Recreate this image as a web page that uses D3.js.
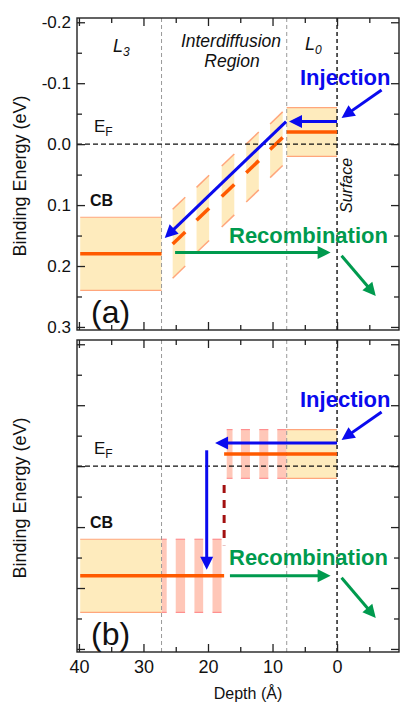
<!DOCTYPE html>
<html>
<head>
<meta charset="utf-8">
<script src="https://cdn.jsdelivr.net/npm/d3@7"></script>
<style>
  body { margin: 0; background: #fff; }
  text { font-family: "Liberation Sans", Arial, sans-serif; }
</style>
</head>
<body>
<svg id="chart" width="401" height="705"></svg>
<script>
// ---- data (depth in Å, binding energy in eV) ----
const depthMajorTicks = [40, 30, 20, 10, 0];
const depthMinorTicks = [35, 25, 15, 5, -5];
const depthTickLabels = ['40', '30', '20', '10', '0'];
const energyMajorTicks = [-0.2, -0.1, 0.0, 0.1, 0.2, 0.3];
const energyMinorTicks = [-0.15, -0.05, 0.05, 0.15, 0.25];
const energyTickLabels = ['-0.2', '-0.1', '0.0', '0.1', '0.2', '0.3'];

const regionEdges = [27.2, 7.8]; // L3 | interdiffusion | L0
const surfaceDepth = 0;
const fermiLevel = 0;

// L3 and L0 layers
const layerFrom = [39.8, 7.8];
const layerTo = [27.2, 0];
const layerLevel = [0.18, -0.02];
const layerTop = [0.12, -0.06];
const layerBottom = [0.24, 0.02];

// (a) graded bands in the interdiffusion region
const bandDepth = [24.5, 20.8, 16.9, 13.1, 9.4];
const bandLevel = [0.154, 0.115, 0.076, 0.037, -0.001];
const bandTop = [0.097, 0.061, 0.026, -0.010, -0.043];
const bandBottom = [0.210, 0.168, 0.126, 0.085, 0.045];
const bandWidth = 1.95;
const bandSlope = 0.0102; // eV per Å

// (b) abrupt step: stripes and extended levels
const upperStripeFrom = [17.1, 14.9, 12.05, 9.26];
const upperStripeTo = [16.2, 13.5, 10.65, 7.8];
const lowerStripeFrom = [27.2, 25.0, 22.1, 19.3];
const lowerStripeTo = [26.4, 23.55, 20.75, 17.9];
const stepDepth = 17.5;
const stepGap = [0.031, 0.13];

// arrows [depth, eV] -> [depth, eV]
const injectionArrow = [[-6.9, -0.089], [-0.7, -0.043]];
const recombOutArrow = [[-0.7, 0.183], [-6.0, 0.249]];
const aInjectLeft = [[0, -0.037], [7.45, -0.037]];
const aDownSlope = [[7.9, -0.037], [26.7, 0.154]];
const aRecomb = [[25.1, 0.178], [1.0, 0.178]];
const bInjectLeft = [[0, -0.038], [18.9, -0.038]];
const bDrop = [[20.2, -0.026], [20.2, 0.170]];
const bRecomb = [[16.6, 0.18], [1.0, 0.18]];

// ---- layout ----
const svg = d3.select('#chart');
const left = 77;
const W = 322;
const H = 312;
const panelTops = [18, 340];

const x = d3.scaleLinear().domain([40.3, -9.6]).range([0, W]);
const y = d3.scaleLinear().domain([-0.207, 0.305]).range([0, H]);

const orange = '#ff5a00';
const fillYellow = '#feebbd';
const edgeOrange = '#ffa67c';
const stripeFill = '#ffc7b8';
const stripeEdge = '#ff8f8f';
const blue = '#0a0aee';
const green = '#009a4e';

function arrow(g, pts, color) {
  const x1 = x(pts[0][0]), y1 = y(pts[0][1]);
  const x2 = x(pts[1][0]), y2 = y(pts[1][1]);
  const len = Math.hypot(x2 - x1, y2 - y1);
  const ux = (x2 - x1) / len, uy = (y2 - y1) / len;
  const hl = 13, hw = 6.5;
  const bx = x2 - ux * hl, by = y2 - uy * hl;
  g.append('line')
    .attr('x1', x1).attr('y1', y1)
    .attr('x2', bx + ux * 2).attr('y2', by + uy * 2)
    .attr('stroke', color).attr('stroke-width', 3);
  g.append('polygon')
    .attr('points', `${x2},${y2} ${bx - uy * hw},${by + ux * hw} ${bx + uy * hw},${by - ux * hw}`)
    .attr('fill', color);
}

function hLine(g, d0, d1, e, color, width) {
  g.append('line')
    .attr('x1', x(d0)).attr('x2', x(d1))
    .attr('y1', y(e)).attr('y2', y(e))
    .attr('stroke', color).attr('stroke-width', width);
}

function layers(g) {
  layerFrom.forEach((d0, i) => {
    g.append('rect')
      .attr('x', x(d0)).attr('width', x(layerTo[i]) - x(d0))
      .attr('y', y(layerTop[i])).attr('height', y(layerBottom[i]) - y(layerTop[i]))
      .attr('fill', fillYellow);
    hLine(g, d0, layerTo[i], layerTop[i], edgeOrange, 1.2);
    hLine(g, d0, layerTo[i], layerBottom[i], edgeOrange, 1.2);
  });
}

function stripes(g, from, to, top, bottom) {
  from.forEach((d0, i) => {
    g.append('rect')
      .attr('x', x(d0)).attr('width', x(to[i]) - x(d0))
      .attr('y', y(top)).attr('height', y(bottom) - y(top))
      .attr('fill', stripeFill);
    hLine(g, d0, to[i], top, stripeEdge, 1.2);
    hLine(g, d0, to[i], bottom, stripeEdge, 1.2);
  });
}

function guides(g) {
  regionEdges.forEach((d) => {
    g.append('line')
      .attr('x1', x(d)).attr('x2', x(d)).attr('y1', 0).attr('y2', H)
      .attr('stroke', '#999').attr('stroke-width', 1).attr('stroke-dasharray', '4,3');
  });
  g.append('line')
    .attr('x1', x(surfaceDepth)).attr('x2', x(surfaceDepth)).attr('y1', 0).attr('y2', H)
    .attr('stroke', '#111').attr('stroke-width', 1.4).attr('stroke-dasharray', '4,3');
  g.append('line')
    .attr('x1', 0).attr('x2', W).attr('y1', y(fermiLevel)).attr('y2', y(fermiLevel))
    .attr('stroke', '#111').attr('stroke-width', 1.2).attr('stroke-dasharray', '5,3');
}

function axes(g, showY, showX) {
  const style = (sel) => {
    sel.select('.domain').remove();
    sel.selectAll('line').attr('stroke', '#222').attr('stroke-width', 1.3);
    sel.selectAll('text').attr('fill', '#111').attr('font-size', 17)
      .attr('font-family', '"Liberation Sans", Arial, sans-serif');
  };
  g.append('g').call(d3.axisLeft(y).tickValues(energyMajorTicks).tickSize(-8).tickPadding(6)
    .tickFormat((d, i) => (showY ? energyTickLabels[i] : ''))).call(style);
  g.append('g').call(d3.axisLeft(y).tickValues(energyMinorTicks).tickSize(-5).tickFormat('')).call(style);
  g.append('g').attr('transform', `translate(${W},0)`)
    .call(d3.axisRight(y).tickValues(energyMajorTicks).tickSize(-8).tickFormat('')).call(style);
  g.append('g').attr('transform', `translate(${W},0)`)
    .call(d3.axisRight(y).tickValues(energyMinorTicks).tickSize(-5).tickFormat('')).call(style);
  g.append('g').call(d3.axisTop(x).tickValues(depthMajorTicks).tickSize(-8).tickFormat('')).call(style);
  g.append('g').call(d3.axisTop(x).tickValues(depthMinorTicks).tickSize(-5).tickFormat('')).call(style);
  g.append('g').attr('transform', `translate(0,${H})`)
    .call(d3.axisBottom(x).tickValues(depthMajorTicks).tickSize(-8).tickPadding(8)
      .tickFormat((d, i) => (showX ? depthTickLabels[i] : ''))).call(style)
    .selectAll('text').attr('font-size', 18);
  g.append('g').attr('transform', `translate(0,${H})`)
    .call(d3.axisBottom(x).tickValues(depthMinorTicks).tickSize(-5).tickFormat('')).call(style);
  g.append('rect').attr('width', W).attr('height', H)
    .attr('fill', 'none').attr('stroke', '#222').attr('stroke-width', 1.4);
}

function subText(g, tx, ty, main, sub, size, subSize, italic) {
  const t = g.append('text').attr('x', tx).attr('y', ty).attr('font-size', size)
    .attr('font-style', italic ? 'italic' : 'normal').attr('fill', '#111');
  t.append('tspan').text(main);
  t.append('tspan').attr('font-size', subSize).attr('dy', 4).text(sub);
}

function commonText(g, tag) {
  subText(g, 17, 114, 'E', 'F', 17, 12, false);
  g.append('text').attr('x', 13).attr('y', 188).attr('font-size', 16)
    .attr('font-weight', 'bold').attr('fill', '#111').text('CB');
  g.append('text').attr('x', 14).attr('y', 305).attr('font-size', 32)
    .attr('fill', '#111').text(tag);
  g.append('text').attr('x', 223).attr('y', 67).attr('font-size', 22)
    .attr('font-weight', 'bold').attr('fill', blue).text('Injection');
  g.append('text').attr('x', 152).attr('y', 225).attr('font-size', 22)
    .attr('font-weight', 'bold').attr('fill', green).text('Recombination');
  g.append('text').attr('transform', `translate(-51,${H / 2 + 2}) rotate(-90)`)
    .attr('text-anchor', 'middle').attr('font-size', 18).attr('fill', '#111')
    .text('Binding Energy (eV)');
}

// ---- panel (a): graded interface ----
const ga = svg.append('g').attr('transform', `translate(${left},${panelTops[0]})`);
layers(ga);
bandDepth.forEach((d, i) => {
  const dl = d + bandWidth / 2, dr = d - bandWidth / 2;
  const s = bandSlope * bandWidth / 2;
  const pts = [[dl, bandTop[i] + s], [dr, bandTop[i] - s], [dr, bandBottom[i] - s], [dl, bandBottom[i] + s]];
  ga.append('polygon').attr('points', pts.map((p) => `${x(p[0])},${y(p[1])}`).join(' '))
    .attr('fill', fillYellow);
  [bandTop[i], bandBottom[i]].forEach((e) => {
    ga.append('line').attr('x1', x(dl)).attr('y1', y(e + s)).attr('x2', x(dr)).attr('y2', y(e - s))
      .attr('stroke', edgeOrange).attr('stroke-width', 1.5);
  });
  ga.append('line').attr('x1', x(dl)).attr('y1', y(bandLevel[i] + s))
    .attr('x2', x(dr)).attr('y2', y(bandLevel[i] - s))
    .attr('stroke', orange).attr('stroke-width', 3.5);
});
guides(ga);
layerFrom.forEach((d0, i) => hLine(ga, d0, layerTo[i], layerLevel[i], orange, 3.5));
arrow(ga, injectionArrow, blue);
arrow(ga, aInjectLeft, blue);
arrow(ga, aDownSlope, blue);
arrow(ga, aRecomb, green);
arrow(ga, recombOutArrow, green);
commonText(ga, '(a)');
subText(ga, 36, 34, 'L', '3', 18, 12, true);
subText(ga, 228, 32, 'L', '0', 18, 12, true);
ga.append('text').attr('x', 154).attr('y', 29).attr('text-anchor', 'middle')
  .attr('font-size', 17.5).attr('font-style', 'italic').attr('fill', '#111').text('Interdiffusion');
ga.append('text').attr('x', 155).attr('y', 49).attr('text-anchor', 'middle')
  .attr('font-size', 17.5).attr('font-style', 'italic').attr('fill', '#111').text('Region');
ga.append('text').attr('transform', `translate(275,195) rotate(-90)`)
  .attr('font-size', 16).attr('font-style', 'italic').attr('fill', '#111').text('Surface');
axes(ga, true, false);

// ---- panel (b): abrupt interface ----
const gb = svg.append('g').attr('transform', `translate(${left},${panelTops[1]})`);
stripes(gb, upperStripeFrom, upperStripeTo, layerTop[1], layerBottom[1]);
stripes(gb, lowerStripeFrom, lowerStripeTo, layerTop[0], layerBottom[0]);
layers(gb);
guides(gb);
hLine(gb, layerFrom[0], stepDepth, layerLevel[0], orange, 3.5);
hLine(gb, stepDepth, layerTo[1], layerLevel[1], orange, 3.5);
gb.append('line')
  .attr('x1', x(stepDepth)).attr('x2', x(stepDepth))
  .attr('y1', y(stepGap[0])).attr('y2', y(stepGap[1]))
  .attr('stroke', '#a31010').attr('stroke-width', 3).attr('stroke-dasharray', '8,7');
arrow(gb, injectionArrow, blue);
arrow(gb, bInjectLeft, blue);
arrow(gb, bDrop, blue);
arrow(gb, bRecomb, green);
arrow(gb, recombOutArrow, green);
commonText(gb, '(b)');
axes(gb, false, true);

svg.append('text').attr('x', 248).attr('y', 699).attr('text-anchor', 'middle')
  .attr('font-size', 16).attr('fill', '#111').text('Depth (Å)');
</script>
</body>
</html>
